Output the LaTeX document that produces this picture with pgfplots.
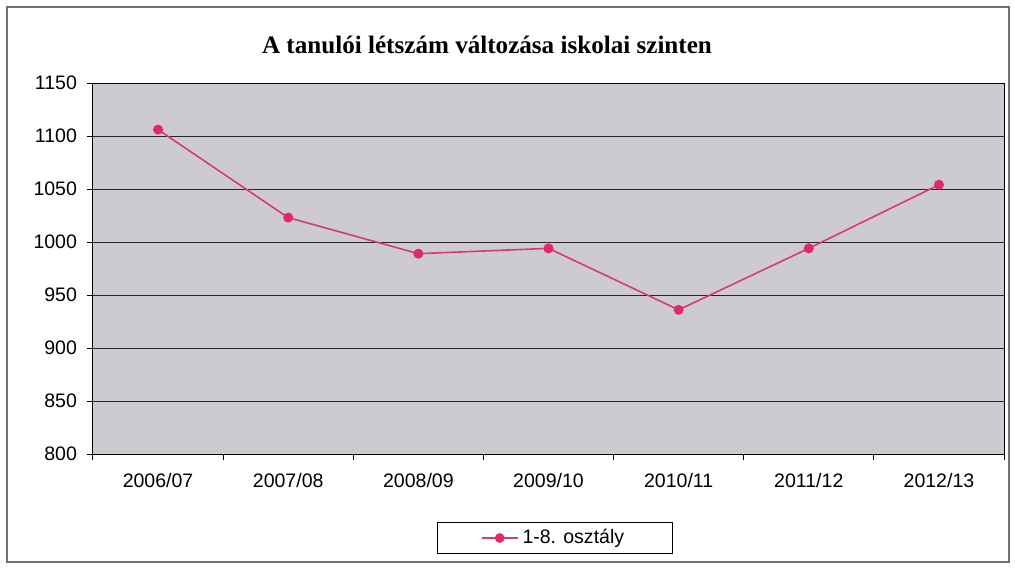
\documentclass[border=0pt]{standalone}
\usepackage{fontspec}
\setmainfont{Liberation Sans}
\newfontfamily\titlefont{Liberation Serif}
\usepackage{pgfplots}
\pgfplotsset{compat=1.18}
\definecolor{plotbg}{HTML}{CDCBD1}
\definecolor{lineC}{HTML}{D43C72}
\definecolor{markC}{HTML}{E02A68}
\definecolor{frameC}{HTML}{707070}
\begin{document}
\begin{tikzpicture}[x=1bp,y=1bp]
\useasboundingbox (-46.5,-56.5) rectangle (461,227);
\draw[frameC,line width=0.6bp] (-43,-54) rectangle (458,223.5);
\begin{axis}[
  at={(0,0)}, anchor=south west,
  scale only axis, width=455.5bp, height=185.5bp,
  xmin=-0.5, xmax=6.5, ymin=800, ymax=1150,
  xtick={0,...,6}, major x tick style={draw=none},
  minor xtick={-0.5,0.5,...,6.5},
  xticklabels={2006/07,2007/08,2008/09,2009/10,2010/11,2011/12,2012/13},
  ytick={800,850,...,1150},
  tick align=outside, tick pos=left,
  major tick length=3bp, minor tick length=3bp,
  tick style={black, line width=0.5bp},
  ymajorgrids, grid style={black!85, line width=0.5bp},
  axis line style={black, line width=0.5bp},
  axis background/.style={fill=plotbg},
  /pgf/number format/assume math mode=true,
  /pgf/number format/1000 sep={},
  tick label style={font=\fontsize{9.8}{11}\selectfont},
  xticklabel style={yshift=-3bp},
  yticklabel style={xshift=-1.5bp},
  legend style={at={(rel axis cs:0.5066,-0.2264)}, anchor=center,
    draw=black, line width=0.4bp, fill=white,
    font=\fontsize{9.8}{11}\selectfont,
    inner xsep=22bp, inner ysep=1.5bp},
  legend image code/.code={
    \draw[lineC, line width=0.8bp] (0bp,0bp) -- (18bp,0bp);
    \fill[markC] (9bp,0bp) circle (2bp);},
]
\addplot[lineC, line width=0.8bp, mark=*, mark size=2.1bp,
  mark options={fill=markC, draw=markC}]
  coordinates {(0,1106) (1,1023) (2,989) (3,994) (4,936) (5,994) (6,1054)};
\addlegendentry{1-8. osztály}
\end{axis}
\node[font=\titlefont\bfseries\fontsize{12.6}{14}\selectfont] at (197,204.5)
  {A tanulói létszám változása iskolai szinten};
\end{tikzpicture}
\end{document}
